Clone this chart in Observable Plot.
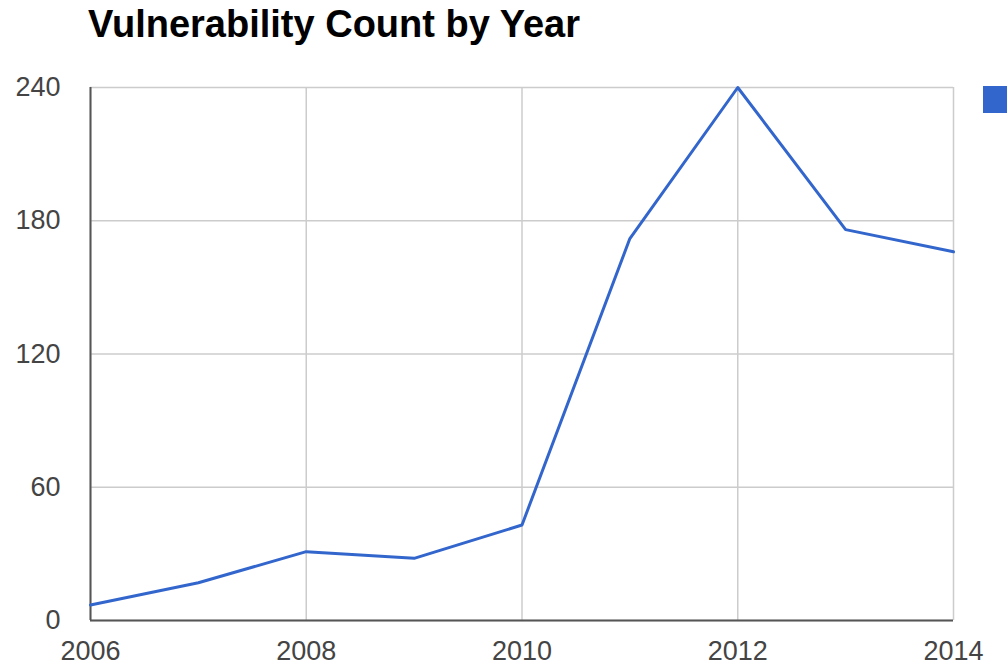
<!DOCTYPE html>
<html>
<head>
<meta charset="utf-8">
<script src="https://cdn.jsdelivr.net/npm/d3@7"></script>
<script src="https://cdn.jsdelivr.net/npm/@observablehq/plot@0.6"></script>
<style>
  html, body { margin: 0; padding: 0; background: #fff; overflow: hidden; width: 1007px; height: 664px; }
  #wrap { position: relative; width: 1007px; height: 664px; font-family: "Liberation Sans", Arial, sans-serif; }
  #title { position: absolute; left: 88px; top: 5px; font-size: 38px; line-height: 1; font-weight: bold; color: #000; white-space: nowrap; }
  #legend { position: absolute; left: 983px; top: 86px; width: 30px; height: 27px; }
  #chart { position: absolute; left: 0; top: 0; }
</style>
</head>
<body>
<div id="wrap">
  <div id="chart"></div>
  <div id="title"></div>
  <div id="legend"></div>
</div>
<script>
const titleText = "Vulnerability Count by Year";
const years = [2006, 2007, 2008, 2009, 2010, 2011, 2012, 2013, 2014];
const counts = [7, 17, 31, 28, 43, 172, 240, 176, 166];
const xTicks = [2006, 2008, 2010, 2012, 2014];
const yTicks = [0, 60, 120, 180, 240];
const lineColor = "#3366cc";

const data = years.map((y, i) => ({year: y, count: counts[i]}));

document.getElementById("title").textContent = titleText;
document.getElementById("legend").style.background = lineColor;

const chart = Plot.plot({
  width: 1007,
  height: 664,
  marginTop: 87,
  marginBottom: 44,
  marginLeft: 90,
  marginRight: 54,
  style: {fontFamily: "Liberation Sans, Arial, sans-serif", fontSize: "27px", color: "#444", background: "transparent", overflow: "visible"},
  x: {domain: [2006, 2014], ticks: xTicks, tickFormat: "d", tickSize: 0, tickPadding: 20, label: null},
  y: {domain: [0, 240], ticks: yTicks, tickSize: 0, tickPadding: 30, label: null},
  marks: [
    Plot.gridX(xTicks, {stroke: "#cccccc", strokeOpacity: 1, strokeWidth: 1.5}),
    Plot.gridY(yTicks, {stroke: "#cccccc", strokeOpacity: 1, strokeWidth: 1.5}),
    Plot.ruleX([2006], {stroke: "#555", strokeWidth: 2}),
    Plot.ruleY([0], {stroke: "#555", strokeWidth: 2}),
    Plot.line(data, {x: "year", y: "count", stroke: lineColor, strokeWidth: 3, strokeLinejoin: "round"}),
    Plot.axisX({ticks: xTicks, tickFormat: "d", tickSize: 0, tickPadding: 20, fill: "#444"}),
    Plot.axisY({ticks: yTicks, tickSize: 0, tickPadding: 30, fill: "#444"})
  ]
});
document.getElementById("chart").appendChild(chart);
</script>
</body>
</html>
